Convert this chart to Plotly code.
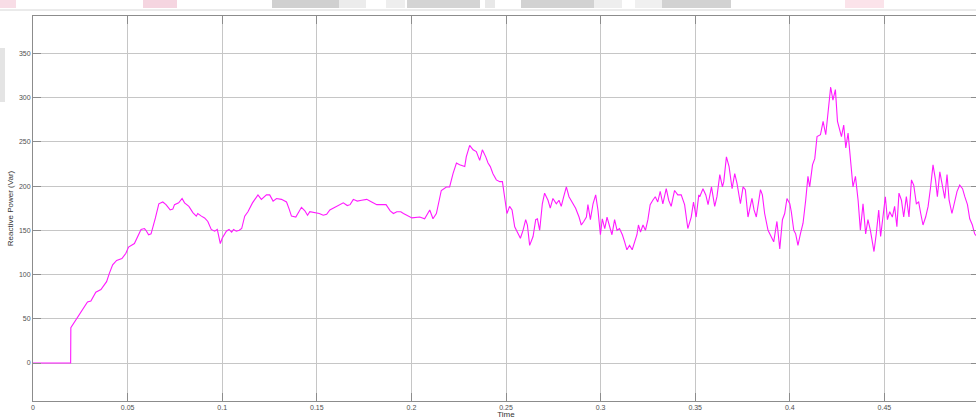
import plotly.graph_objects as go

# ---- data ----
time_s = [
    0.0, 0.0199, 0.0200, 0.0262, 0.0288, 0.0306, 0.0332, 0.0359, 0.0389, 0.0403,
    0.0421, 0.0442, 0.0470, 0.0491, 0.0505, 0.0536, 0.0553, 0.0571, 0.0589, 0.0597,
    0.0611, 0.0624, 0.0647, 0.0665, 0.0686, 0.0703, 0.0725, 0.0739, 0.0748, 0.0770,
    0.0788, 0.0801, 0.0824, 0.0845, 0.0863, 0.0871, 0.0890, 0.0907, 0.0924, 0.0942,
    0.0960, 0.0974, 0.0990, 0.1000, 0.1022, 0.1036, 0.1050, 0.1060, 0.1075, 0.1090,
    0.1103, 0.1119, 0.1136, 0.1160, 0.1189, 0.1207, 0.1234, 0.1251, 0.1269, 0.1287,
    0.1313, 0.1340, 0.1354, 0.1366, 0.1389, 0.1419, 0.1437, 0.1451, 0.1463, 0.1490,
    0.1513, 0.1534, 0.1552, 0.1569, 0.1605, 0.1640, 0.1661, 0.1676, 0.1693, 0.1714,
    0.1737, 0.1764, 0.1790, 0.1817, 0.1843, 0.1866, 0.1888, 0.1905, 0.1923, 0.1944,
    0.1958, 0.1979, 0.2003, 0.2044, 0.2070, 0.2097, 0.2114, 0.2132, 0.2158, 0.2185,
    0.2202, 0.2220, 0.2238, 0.2255, 0.2282, 0.2290, 0.2308, 0.2326, 0.2343, 0.2361,
    0.2375, 0.2393, 0.2405, 0.2417, 0.2431, 0.2449, 0.2467, 0.2481, 0.2493, 0.2505,
    0.2519, 0.2532, 0.2546, 0.2563, 0.2576, 0.2590, 0.2604, 0.2613, 0.2625, 0.2643,
    0.2657, 0.2666, 0.2678, 0.2692, 0.2704, 0.2722, 0.2734, 0.2748, 0.2766, 0.2780,
    0.2792, 0.2805, 0.2819, 0.2833, 0.2851, 0.2868, 0.2886, 0.2898, 0.2911, 0.2925,
    0.2933, 0.2946, 0.2960, 0.2974, 0.2986, 0.2999, 0.3009, 0.3022, 0.3034, 0.3048,
    0.3060, 0.3074, 0.3087, 0.3100, 0.3115, 0.3127, 0.3139, 0.3153, 0.3167, 0.3180,
    0.3192, 0.3200, 0.3211, 0.3224, 0.3237, 0.3250, 0.3262, 0.3276, 0.3289, 0.3302,
    0.3315, 0.3329, 0.3347, 0.3360, 0.3373, 0.3391, 0.3408, 0.3426, 0.3444, 0.3461,
    0.3479, 0.3491, 0.3505, 0.3519, 0.3524, 0.3541, 0.3556, 0.3568, 0.3586, 0.3603,
    0.3615, 0.3630, 0.3644, 0.3651, 0.3665, 0.3679, 0.3695, 0.3709, 0.3721, 0.3739,
    0.3753, 0.3765, 0.3779, 0.3800, 0.3811, 0.3823, 0.3845, 0.3855, 0.3867, 0.3885,
    0.3903, 0.3915, 0.3932, 0.3947, 0.3961, 0.3973, 0.3985, 0.4000, 0.4008, 0.4021,
    0.4031, 0.4043, 0.4056, 0.4070, 0.4084, 0.4096, 0.4105, 0.4120, 0.4132, 0.4144,
    0.4162, 0.4176, 0.4190, 0.4202, 0.4216, 0.4228, 0.4241, 0.4252, 0.4264, 0.4273,
    0.4285, 0.4296, 0.4308, 0.4321, 0.4334, 0.4347, 0.4361, 0.4373, 0.4387, 0.4401,
    0.4413, 0.4426, 0.4436, 0.4445, 0.4457, 0.4470, 0.4480, 0.4493, 0.4505, 0.4516,
    0.4528, 0.4542, 0.4554, 0.4566, 0.4577, 0.4590, 0.4602, 0.4616, 0.4630, 0.4643,
    0.4655, 0.4669, 0.4681, 0.4692, 0.4704, 0.4718, 0.4731, 0.4743, 0.4757, 0.4770,
    0.4780, 0.4793, 0.4805, 0.4819, 0.4831, 0.4842, 0.4857, 0.4872, 0.4884, 0.4898,
    0.4913, 0.4925, 0.4939, 0.4951, 0.4965, 0.4977, 0.5000,
]
reactive_power_var = [
    0, 0, 40, 60, 69, 70, 80, 83, 92, 101,
    111, 116, 118, 124, 131, 135, 142, 151, 152, 150,
    145, 146, 164, 180, 182, 179, 173, 174, 179, 181,
    186, 181, 177, 170, 166, 169, 166, 164, 160, 151,
    149, 151, 135, 141, 149, 151, 148, 151, 149, 150,
    152, 166, 171, 181, 190, 185, 190, 190, 183, 186,
    185, 182, 174, 166, 165, 176, 172, 167, 171, 170,
    169, 167, 168, 173, 177, 181, 178, 179, 185, 183,
    184, 185, 182, 179, 179, 179, 172, 169, 171, 171,
    169, 167, 164, 165, 163, 173, 163, 169, 195, 199,
    199, 214, 226, 224, 222, 233, 246, 241, 239, 229,
    241, 233, 226, 222, 214, 207, 205, 205, 188, 169,
    177, 173, 154, 147, 141, 150, 162, 156, 133, 143,
    162, 163, 150, 180, 192, 184, 175, 186, 180, 184,
    177, 188, 199, 188, 182, 175, 165, 156, 160, 165,
    179, 162, 180, 190, 173, 145, 163, 152, 165, 154,
    145, 162, 150, 152, 145, 137, 128, 133, 128, 137,
    145, 156, 148, 156, 150, 162, 179, 184, 188, 182,
    194, 180, 197, 184, 177, 195, 190, 190, 179, 152,
    165, 182, 165, 190, 188, 197, 190, 179, 199, 177,
    188, 213, 199, 205, 233, 222, 197, 214, 203, 180,
    199, 196, 165, 186, 173, 165, 196, 190, 169, 150,
    143, 137, 160, 129, 162, 169, 186, 180, 171, 150,
    146, 133, 146, 158, 184, 211, 199, 224, 231, 256,
    258, 273, 258, 280, 312, 297, 309, 273, 263, 256,
    269, 243, 260, 233, 199, 211, 184, 150, 180, 146,
    162, 150, 135, 126, 146, 173, 143, 165, 188, 162,
    171, 165, 177, 154, 192, 184, 165, 188, 165, 207,
    201, 180, 182, 169, 156, 165, 177, 197, 224, 207,
    188, 216, 203, 186, 213, 184, 169, 182, 194, 201,
    197, 188, 179, 163, 156, 146, 140,
]
x_ticks = [0, 0.05, 0.1, 0.15, 0.2, 0.25, 0.3, 0.35, 0.4, 0.45, 0.5]
x_tick_labels = ["0", "0.05", "0.1", "0.15", "0.2", "0.25", "0.3", "0.35", "0.4", "0.45", "0.5"]
y_ticks = [0, 50, 100, 150, 200, 250, 300, 350]
y_tick_labels = ["0", "50", "100", "150", "200", "250", "300", "350"]

# Page body margin is removed (post_script), so figure pixels = screen pixels.
W, H = 979, 419
ML, MT = 33, 16
PLOT_W, PLOT_H = 946, 385
MR = W - ML - PLOT_W
MB = H - MT - PLOT_H

fig = go.Figure()
fig.add_trace(go.Scatter(
    x=time_s, y=reactive_power_var, mode="lines",
    line=dict(color="#ff1aff", width=1.1), showlegend=False,
))

font_family = "Liberation Sans, Arial, sans-serif"
axis_common = dict(
    showgrid=True, gridcolor="#c6c6c6", gridwidth=1,
    showline=True, linecolor="#8c8c8c", linewidth=1,
    ticks="inside", ticklen=8, tickcolor="#8c8c8c", tickwidth=1,
    mirror="ticks", zeroline=False,
    tickfont=dict(family=font_family, size=7, color="#505050"),
)

fig.update_layout(
    width=W, height=H,
    margin=dict(l=ML, r=MR, t=MT, b=MB, pad=0),
    paper_bgcolor="white", plot_bgcolor="white",
    xaxis=dict(
        range=[0, 0.5], tickvals=x_ticks, ticktext=x_tick_labels,
        title=dict(text="Time", font=dict(family=font_family, size=8, color="#333333"), standoff=2),
        automargin=False,
        **axis_common,
    ),
    yaxis=dict(
        range=[-42.9, 392.2], tickvals=y_ticks, ticktext=y_tick_labels,
        title=dict(text="Reactive Power (Var)", font=dict(family=font_family, size=8, color="#333333"), standoff=4),
        automargin=False,
        **axis_common,
    ),
)

# screenshot artefacts above the plot (light header remnants), in screen pixels
def px_x(p):
    return (p - ML) / PLOT_W

def px_y(p):
    return (MT + PLOT_H - p) / PLOT_H

shapes = [
    dict(type="line", xref="paper", yref="paper", x0=px_x(0), x1=px_x(W), y0=px_y(10), y1=px_y(10),
         line=dict(color="#d6d6d6", width=1)),
    dict(type="rect", xref="paper", yref="paper", x0=px_x(0), x1=px_x(5), y0=px_y(102), y1=px_y(48),
         line=dict(width=0), fillcolor="#e4e4e4"),
]
blobs = [
    (272, 339, "#d0d0d0"), (339, 366, "#ececec"), (386, 405, "#eeeeee"), (407, 480, "#d4d4d4"),
    (485, 495, "#e8e8e8"), (521, 594, "#d2d2d2"), (594, 622, "#eeeeee"), (635, 662, "#f0f0f0"),
    (662, 731, "#d2d2d2"), (0, 16, "#f8dde6"), (143, 177, "#f5d5e0"), (845, 884, "#fbe3ea"),
]
for a, b, c in blobs:
    shapes.append(dict(type="rect", xref="paper", yref="paper", x0=px_x(a), x1=px_x(b),
                       y0=px_y(8), y1=px_y(0), line=dict(width=0), fillcolor=c))
fig.update_layout(shapes=shapes)

fig.write_html(
    "out.html",
    config={"displayModeBar": False},
    post_script="document.body.style.margin='0';document.body.style.overflow='hidden';",
)
